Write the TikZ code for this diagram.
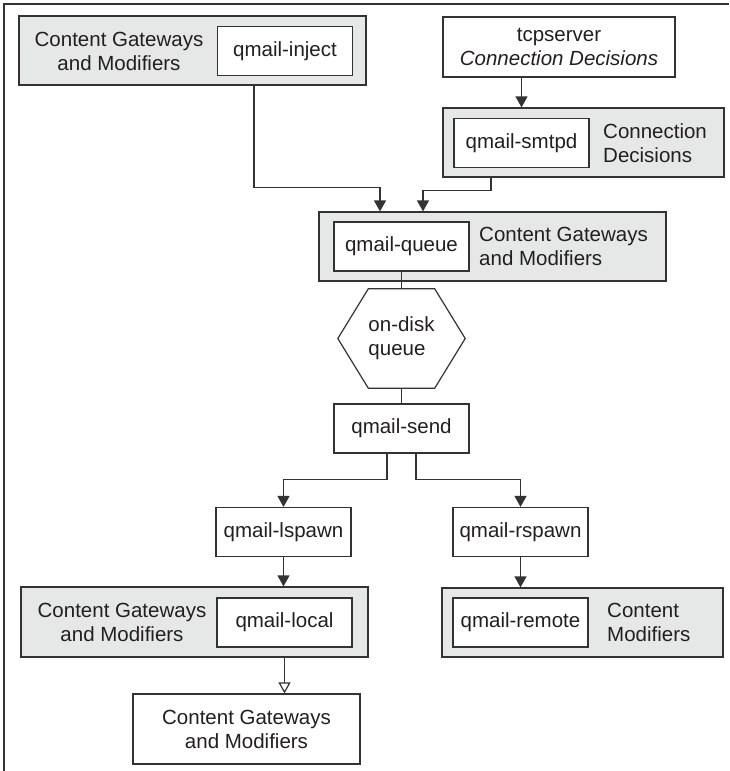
\documentclass[tikz,border=0pt]{standalone}
\usepackage{fontspec}
\setmainfont{Liberation Sans}
\usepackage{xcolor}
\usepackage{tikz}
\usetikzlibrary{arrows.meta, positioning, calc}
\definecolor{boxgray}{HTML}{E6E7E7}
\definecolor{linegray}{HTML}{333333}
\definecolor{inkgray}{HTML}{231F20}
\tikzset{
  outerbox/.style={draw=linegray, line width=1.2pt, fill=boxgray, inner sep=0pt},
  prog/.style={draw=linegray, line width=1.2pt, fill=white, inner sep=0pt, align=center, minimum width=135pt, minimum height=49pt},
  txt/.style={inner sep=0pt, align=center},
  link/.style={draw=linegray, line width=1.2pt},
  arrow/.style={link, -{Triangle[width=12pt,length=11pt]}},
  openarrow/.style={link, -{Triangle[open,fill=white,width=12pt,length=11pt]}}
}

\begin{document}
\begin{tikzpicture}[x=1pt, y=-1pt, text=inkgray, font=\fontsize{20.5}{24}\selectfont]
\useasboundingbox (0,0) rectangle (729,771);
% Frame
\draw[line width=1.6pt, draw=linegray] (4,771) -- (4,4) -- (729,4);

% qmail-inject
\node[outerbox, minimum width=347pt, minimum height=69pt] (injectbox) at (192.5,50.5) {};
\node[prog] (inject) at (285,51) {qmail-inject};
\node[txt] (injecttxt) at (119,51) {Content Gateways\\and Modifiers};

% tcpserver and qmail-smtpd
\node[prog, minimum width=232pt, minimum height=60pt] (tcp) at (559,47) {tcpserver\\\textit{Connection Decisions}};
\node[outerbox, minimum width=281pt, minimum height=69pt] (smtpdbox) at (583.5,142.5) {};
\node[prog] (smtpd) at (521.5,143) {qmail-smtpd};
\node[txt, anchor=west, align=left] (smtpdtxt) at (603,143) {Connection\\Decisions};

% qmail-queue
\node[outerbox, minimum width=347pt, minimum height=69pt] (queuebox) at (492.5,246.5) {};
\node[prog] (queue) at (401.5,246.5) {qmail-queue};
\node[txt, anchor=west, align=left] (queuetxt) at (479,246.5) {Content Gateways\\and Modifiers};

% on-disk queue
\node[txt, align=left, minimum width=127pt, minimum height=99pt] (disk) at (401.5,338.5) {on-disk\\queue};
\draw[link] (disk.west) -- ([xshift=30.5pt]disk.north west) -- ([xshift=-30.5pt]disk.north east)
  -- (disk.east) -- ([xshift=-30.5pt]disk.south east) -- ([xshift=30.5pt]disk.south west) -- cycle;

% qmail-send
\node[prog] (send) at (401.5,428.5) {qmail-send};

% spawners
\node[prog] (lspawn) at (283.5,532) {qmail-lspawn};
\node[prog] (rspawn) at (520.5,532) {qmail-rspawn};

% qmail-local
\node[outerbox, minimum width=347pt, minimum height=70pt] (localbox) at (194.5,622) {};
\node[prog] (local) at (284.5,622.5) {qmail-local};
\node[txt] (localtxt) at (122,622.5) {Content Gateways\\and Modifiers};

% qmail-remote
\node[outerbox, minimum width=281pt, minimum height=69pt] (remotebox) at (582.5,622.5) {};
\node[prog] (remote) at (520.5,622.5) {qmail-remote};
\node[txt, anchor=west, align=left] (remotetxt) at (607,622.5) {Content\\Modifiers};

% delivery
\node[prog, minimum width=227pt, minimum height=70pt] (deliver) at (246.5,729) {Content Gateways\\and Modifiers};

% Connectors
\draw[arrow] ([xshift=61.5pt]injectbox.south) -- ++(0,101.5) -| ($(queuebox.north -| queue.north)+(-21.5,0)$);
\draw[arrow] ($(smtpdbox.south -| smtpd.south)+(-30.5,0)$) -- ++(0,12.5) -| ($(queuebox.north -| queue.north)+(21.5,0)$);
\draw[arrow] (tcp.south -| smtpd.north) -- (smtpdbox.north -| smtpd.north);
\draw[link] (queue.south) -- (disk.north);
\draw[link] (disk.south) -- (send.north);
\draw[arrow] ($(send.south)+(-14.5,0)$) -- ++(0,26) -| (lspawn.north);
\draw[arrow] ($(send.south)+(14.5,0)$) -- ++(0,26) -| (rspawn.north);
\draw[arrow] (lspawn.south) -- (localbox.north -| lspawn.south);
\draw[arrow] (rspawn.south) -- (remotebox.north -| rspawn.south);
\draw[openarrow] (localbox.south -| local.south) -- (deliver.north -| local.south);
\end{tikzpicture}
\end{document}
